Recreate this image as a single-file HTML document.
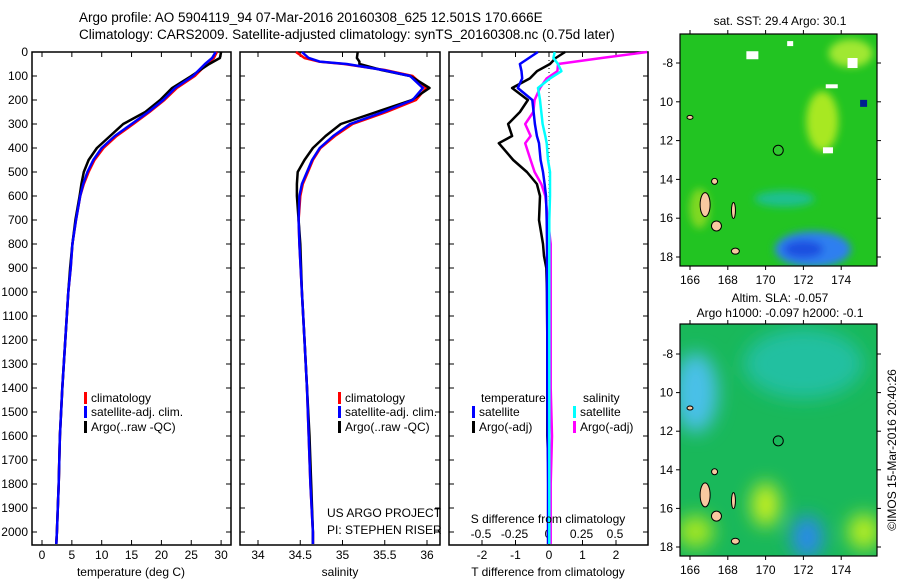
<!DOCTYPE html>
<html><head><meta charset="utf-8"><style>
body{margin:0;background:#fff}
svg{display:block;font-family:"Liberation Sans",sans-serif}
</style></head><body>
<svg id="c" width="900" height="580" viewBox="0 0 900 580">
<defs>
<filter id="bl" x="-50%" y="-50%" width="200%" height="200%"><feGaussianBlur stdDeviation="9"/></filter>
<filter id="bl2" x="-50%" y="-50%" width="200%" height="200%"><feGaussianBlur stdDeviation="4"/></filter>
<clipPath id="cm1"><rect x="680" y="34" width="197" height="232"/></clipPath>
<clipPath id="cm2"><rect x="680" y="324" width="197" height="232"/></clipPath>
</defs>
<text x="79" y="22" font-size="13.5">Argo profile: AO 5904119_94 07-Mar-2016 20160308_625 12.501S 170.666E</text>
<text x="79" y="39" font-size="13.5">Climatology: CARS2009. Satellite-adjusted climatology: synTS_20160308.nc (0.75d later)</text>
<g id="g"></g>
</svg>
<script>
// depth levels
const tDepth=[0,25,50,100,150,200,250,300,350,400,450,500,550,600,700,800,900,1000,1200,1400,1600,1800,2000,2050];
const tClim=[29.3,28.8,27.6,25.6,22.6,20.5,18.0,15.3,12.5,10.3,8.8,7.8,7.0,6.4,5.7,5.1,4.8,4.4,3.9,3.4,3.0,2.8,2.5,2.4];
const tSat=[29.1,28.5,27.3,25.3,22.3,20.3,17.8,15.0,12.2,10.0,8.6,7.6,6.9,6.4,5.7,5.1,4.8,4.4,3.9,3.4,3.0,2.8,2.5,2.4];
const tArgo=[30.0,29.8,28.0,25.0,21.8,19.8,17.3,13.6,11.4,9.2,7.8,7.0,6.6,6.3,5.6,5.1,4.7,4.4,3.9,3.4,3.0,2.8,2.5,2.4];
const sDepth=[0,25,40,50,75,100,150,200,250,300,350,400,450,500,550,600,700,800,1000,1200,1400,1600,1800,2000,2050];
const sClim=[34.45,34.55,34.72,35.02,35.5,35.83,35.99,35.87,35.52,35.12,34.91,34.74,34.65,34.59,34.53,34.5,34.48,34.49,34.52,34.55,34.58,34.6,34.62,34.65,34.65];
const sSat=[34.52,34.6,34.73,35.05,35.48,35.8,35.95,35.83,35.48,35.09,34.89,34.73,34.64,34.58,34.52,34.49,34.48,34.49,34.52,34.55,34.58,34.6,34.62,34.65,34.65];
const sArgo=[35.18,35.17,35.2,35.2,35.46,35.8,36.03,35.82,35.4,34.98,34.8,34.65,34.55,34.47,34.46,34.46,34.48,34.5,34.52,34.55,34.58,34.61,34.63,34.65,34.65];
const dDepth=[0,25,50,80,110,150,200,250,300,350,380,450,500,550,600,700,800,850,900,1000,1200,1400,1600,1800,2000,2050];
const dTsat=[-0.33,-0.6,-0.87,-0.82,-0.8,-0.93,-0.5,-0.46,-0.42,-0.36,-0.3,-0.25,-0.18,-0.13,-0.09,-0.07,-0.06,-0.06,-0.06,-0.06,-0.05,-0.05,-0.04,-0.03,-0.03,-0.03];
const dTargo=[0.48,0.2,0.03,-0.36,-0.57,-1.1,-0.63,-0.87,-1.22,-1.1,-1.5,-1.07,-0.66,-0.36,-0.27,-0.3,-0.18,-0.15,-0.08,-0.06,-0.05,-0.05,-0.05,0.0,0.02,0.02];
const dSsat=[0.05,0.04,0.075,0.1,0.015,-0.075,-0.06,-0.05,-0.04,-0.02,-0.01,0.0,0.015,0.015,0.015,0.01,0.01,0.01,0.01,0.01,0.01,0.01,0.01,0.01,0.01,0.01];
const dSargo=[0.74,0.4,0.075,0.07,-0.01,-0.06,-0.1,-0.11,-0.17,-0.13,-0.17,-0.13,-0.1,-0.05,-0.02,0.0,0.02,0.02,0.02,0.02,0.02,0.02,0.03,0.02,0.02,0.02];
const depthTicks=[0,100,200,300,400,500,600,700,800,900,1000,1100,1200,1300,1400,1500,1600,1700,1800,1900,2000];
const tTicks=[0,5,10,15,20,25,30];
const sTicks=[34,34.5,35,35.5,36];
const dTTicks=[-2,-1,0,1,2];
const dSTicks=[-0.5,-0.25,0,0.25,0.5];
const lonTicks=[166,168,170,172,174];
const latTicks=[-8,-10,-12,-14,-16,-18];

const NS='http://www.w3.org/2000/svg';
const G=document.getElementById('g');
function mk(tag,at,parent){const e=document.createElementNS(NS,tag);for(const k in at)e.setAttribute(k,at[k]);(parent||G).appendChild(e);return e;}
const TOP=52,BOT=545;
const y=d=>TOP+d*0.24;
const xT=v=>42+v*5.97, xS=v=>258+(v-34)*84.5, xDT=v=>549+v*33.5, xDS=v=>548+v*134;
function box(x0,x1,name){const r=mk('rect',{x:x0,y:TOP,width:x1-x0,height:BOT-TOP,fill:'none',stroke:'#000','stroke-width':1.5});
}
function line(xs,ds,xf,col,name,w){const pts=xs.map((v,i)=>xf(v).toFixed(1)+','+y(ds[i]).toFixed(1)).join(' ');
const p=mk('polyline',{points:pts,fill:'none',stroke:col,'stroke-width':w||2.5,'stroke-linejoin':'round'});
}
function txt(x,yy,s,fs,anchor,name){const t=mk('text',{x:x,y:yy,'font-size':fs,'text-anchor':anchor||'start'});t.textContent=s;
return t;}
function xticks(ticks,xf,x0,x1,lab,name,ly){ticks.forEach(v=>{const X=xf(v);mk('line',{x1:X,x2:X,y1:BOT,y2:BOT-5,stroke:'#000'});mk('line',{x1:X,x2:X,y1:TOP,y2:TOP+5,stroke:'#000'});
if(lab)txt(X,ly||559,String(v),12,'middle',name+'-tick-label');});}
function yticks(x0,x1){depthTicks.forEach(d=>{mk('line',{x1:x0,x2:x0+5,y1:y(d),y2:y(d),stroke:'#000'});mk('line',{x1:x1,x2:x1-5,y1:y(d),y2:y(d),stroke:'#000'});});}
// panel1
box(32,231,'temperature-panel');yticks(32,231);
depthTicks.forEach(d=>txt(28,y(d)+4,String(d),12,'end','depth-tick-label'));
xticks(tTicks,xT,32,231,true,'temperature');
line(tClim,tDepth,xT,'#f00','temp-climatology-line');
line(tArgo,tDepth,xT,'#000','temp-argo-line');
line(tSat,tDepth,xT,'#00f','temp-satellite-line');
txt(131,576,'temperature (deg C)',12,'middle','temperature-axis-title');
// panel2
box(240,440,'salinity-panel');yticks(240,440);
xticks(sTicks,xS,240,440,true,'salinity');
line(sClim,sDepth,xS,'#f00','sal-climatology-line');
line(sArgo,sDepth,xS,'#000','sal-argo-line');
line(sSat,sDepth,xS,'#00f','sal-satellite-line');
txt(340,576,'salinity',12,'middle','salinity-axis-title');
txt(327,517,'US ARGO PROJECT',12,'start','project-label');
txt(327,534,'PI: STEPHEN RISER',12,'start','pi-label');
// panel3
box(449,648,'difference-panel');yticks(449,648);
xticks(dTTicks,xDT,449,648,true,'tdiff');
dSTicks.forEach(v=>txt(xDS(v),538,String(v),12,'middle','sdiff-tick-label'));
const z=mk('line',{x1:549,x2:549,y1:TOP,y2:y(620),stroke:'#000','stroke-dasharray':'1,3'});

line(dTargo,dDepth,xDT,'#000','tdiff-argo-line');
line(dSargo,dDepth,xDS,'#f0f','sdiff-argo-line');
line(dTsat,dDepth,xDT,'#00f','tdiff-satellite-line');
line(dSsat,dDepth,xDS,'#0ff','sdiff-satellite-line');
txt(548,576,'T difference from climatology',12,'middle','tdiff-axis-title');
txt(548,523,'S difference from climatology',12,'middle','sdiff-axis-title');
// legends
function leg(x,yy,col,s,name){const r=mk('rect',{x:x,y:yy-10,width:3,height:12,fill:col});txt(x+7,yy,s,12,'start',name);}
[84,338].forEach(lx=>{leg(lx,402,'#f00','climatology','legend-climatology');leg(lx,416,'#00f','satellite-adj. clim.','legend-satellite');leg(lx,431,'#000','Argo(..raw -QC)','legend-argo');});
txt(481,402,'temperature',12,'start','legend-temperature-header');
txt(583,402,'salinity',12,'start','legend-salinity-header');
leg(472,416,'#00f','satellite','legend-t-satellite');leg(472,431,'#000','Argo(-adj)','legend-t-argo');
leg(573,416,'#0ff','satellite','legend-s-satellite');leg(573,431,'#f0f','Argo(-adj)','legend-s-argo');
// maps
const lonX=v=>690+(v-166)*18.9;
function map(y0,latY,clip,name,sst){
 const g=mk('g',{'clip-path':'url(#'+clip+')'});
 mk('rect',{x:680,y:y0,width:197,height:232,fill:sst?'#22c422':'#19b85a'},g);
 const b=mk('g',{filter:sst?'url(#bl2)':'url(#bl)'},g);
 if(sst){
  mk('ellipse',{cx:lonX(172.5),cy:latY(-17.6),rx:38,ry:18,fill:'#2f7ff0'},b);
  mk('ellipse',{cx:lonX(172),cy:latY(-17.6),rx:20,ry:9,fill:'#1d50e0'},b);
  mk('ellipse',{cx:lonX(173),cy:latY(-11),rx:16,ry:30,fill:'#a8e820'},b);
  mk('ellipse',{cx:lonX(174.5),cy:latY(-7.5),rx:22,ry:14,fill:'#a0e830'},b);
  mk('ellipse',{cx:lonX(166.5),cy:latY(-15.5),rx:10,ry:20,fill:'#80d820'},b);
  mk('ellipse',{cx:lonX(171),cy:latY(-15),rx:30,ry:8,fill:'#1ec090'},b);
  [[169.3,-7.6,12,8],[174.6,-8.0,10,10],[173.5,-9.2,12,4],[173.3,-12.5,10,6],[171.3,-7,6,5]].forEach(p=>mk('rect',{x:lonX(p[0])-p[2]/2,y:latY(p[1])-p[3]/2,width:p[2],height:p[3],fill:'#fff'},g));
  mk('rect',{x:lonX(175),y:latY(-9.9),width:7,height:7,fill:'#002090'},g);
 } else {
  mk('ellipse',{cx:lonX(166.3),cy:latY(-10),rx:22,ry:40,fill:'#4ac0e8'},b);
  mk('ellipse',{cx:lonX(172),cy:latY(-8.5),rx:60,ry:35,fill:'#22c0a0'},b);
  mk('ellipse',{cx:lonX(172.2),cy:latY(-17.5),rx:16,ry:22,fill:'#2a8ae8'},b);
  mk('ellipse',{cx:lonX(170),cy:latY(-15.8),rx:14,ry:22,fill:'#c8f020'},b);
  mk('ellipse',{cx:lonX(175.2),cy:latY(-17.2),rx:16,ry:18,fill:'#b8ee20'},b);
  mk('ellipse',{cx:lonX(166.3),cy:latY(-17.2),rx:18,ry:16,fill:'#a8e820'},b);
 }
 // islands
 [[166.8,-15.3,5,12],[167.4,-16.4,5,5],[168.4,-17.7,4,3],[167.3,-14.1,3,3],[166,-10.8,3,2],[168.3,-15.6,2,8]].forEach(p=>mk('ellipse',{cx:lonX(p[0]),cy:latY(p[1]),rx:p[2],ry:p[3],fill:'#f8c8a0',stroke:'#000','stroke-width':1},g));
 const c=mk('circle',{cx:lonX(170.67),cy:latY(-12.5),r:5,fill:sst?'#30c830':'none',stroke:'#000','stroke-width':1});
 
 const r=mk('rect',{x:680,y:y0,width:197,height:232,fill:'none',stroke:'#000','stroke-width':1.2});
 lonTicks.forEach(v=>{mk('line',{x1:lonX(v),x2:lonX(v),y1:y0,y2:y0-4,stroke:'#000'});mk('line',{x1:lonX(v),x2:lonX(v),y1:y0+232,y2:y0+236,stroke:'#000'});txt(lonX(v),y0+250,String(v),12,'middle','lon-tick-label');});
 latTicks.forEach(v=>{mk('line',{x1:680,x2:676,y1:latY(v),y2:latY(v),stroke:'#000'});mk('line',{x1:877,x2:881,y1:latY(v),y2:latY(v),stroke:'#000'});txt(673,latY(v)+4,String(v==-8?'-8':v).replace(/^-(1\d)$/,'$1'),12,'end','lat-tick-label');});
}
map(34,v=>63+(-8-v)*19.4,'cm1','sst-map',true);
map(324,v=>354+(-8-v)*19.3,'cm2','sla-map',false);
txt(780,25,'sat. SST: 29.4  Argo: 30.1',12,'middle','sst-map-title');
txt(780,302,'Altim. SLA: -0.057',12,'middle','sla-map-title');
txt(780,317,'Argo h1000: -0.097 h2000: -0.1',12,'middle','sla-map-subtitle');
const cr=txt(0,0,'©IMOS 15-Mar-2016 20:40:26',12,'middle','credit-label');
cr.setAttribute('transform','translate(896,450) rotate(-90)');
</script>
</body></html>
